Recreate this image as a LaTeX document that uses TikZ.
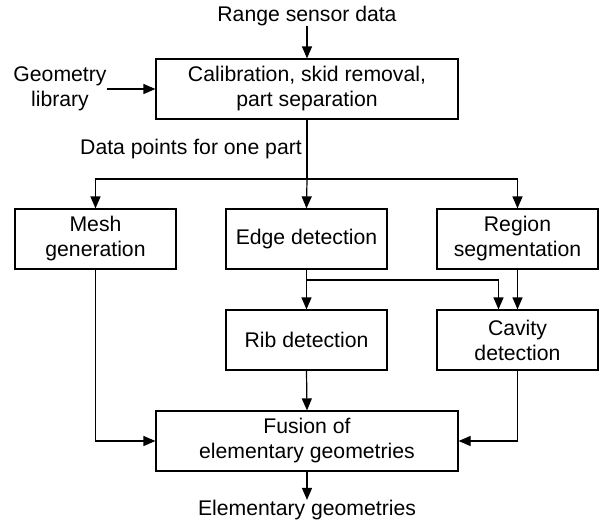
\documentclass[tikz,border=0pt]{standalone}
\usepackage{fontspec}
\setmainfont{Liberation Sans}
\usetikzlibrary{arrows.meta}
\begin{document}
\begin{tikzpicture}[x=1pt,y=-1pt,
  every node/.style={font=\fontsize{21.2}{25}\selectfont, inner sep=0pt, align=center},
  box/.style={draw, line width=1.2pt, minimum height=60pt},
  wbox/.style={box, minimum width=302pt},
  sbox/.style={box, minimum width=161pt},
  conn/.style={line width=1.2pt},
  arr/.style={conn, -{Triangle[length=12pt,width=10pt]}}]
\useasboundingbox (0,0) rectangle (603,525);
\node (rsd) at (307,16) {Range sensor data};
\node[wbox] (cal) at (307,89) {Calibration, skid removal,\\part separation};
\node (geo) at (60,89) {Geometry\\library};
\node (dpl) at (191,149) {Data points for one part};
\node[sbox] (mesh) at (95.5,239) {Mesh\\generation};
\node[sbox] (edge) at (306.5,239) {Edge detection};
\node[sbox] (reg) at (517.5,239) {Region\\segmentation};
\node[sbox] (rib) at (306.5,340) {Rib detection};
\node[sbox] (cav) at (517.5,340) {Cavity\\detection};
\node[wbox] (fus) at (307,441) {Fusion of\\elementary geometries};
\node (out) at (307,510) {Elementary geometries};
\coordinate (br) at (307,179);
\coordinate (eb) at (306.5,280);
\draw[arr] (rsd.south -| cal.north) -- (cal.north);
\draw[arr] (geo.east) -- (cal.west |- geo.east);
\draw[conn] (cal.south) -- (br);
\draw[arr] (br) -| (mesh.north);
\draw[arr] (br) -- (edge.north);
\draw[arr] (br) -| (reg.north);
\draw[arr] (edge.south) -- (rib.north);
\draw[arr] (eb) -| ([xshift=-19pt]cav.north);
\draw[arr] (reg.south) -- (cav.north);
\draw[arr] (rib.south) -- (fus.north);
\draw[arr] (mesh.south) |- (fus.west);
\draw[arr] (cav.south) |- (fus.east);
\draw[arr] (fus.south) -- (out.north);
\end{tikzpicture}
\end{document}
